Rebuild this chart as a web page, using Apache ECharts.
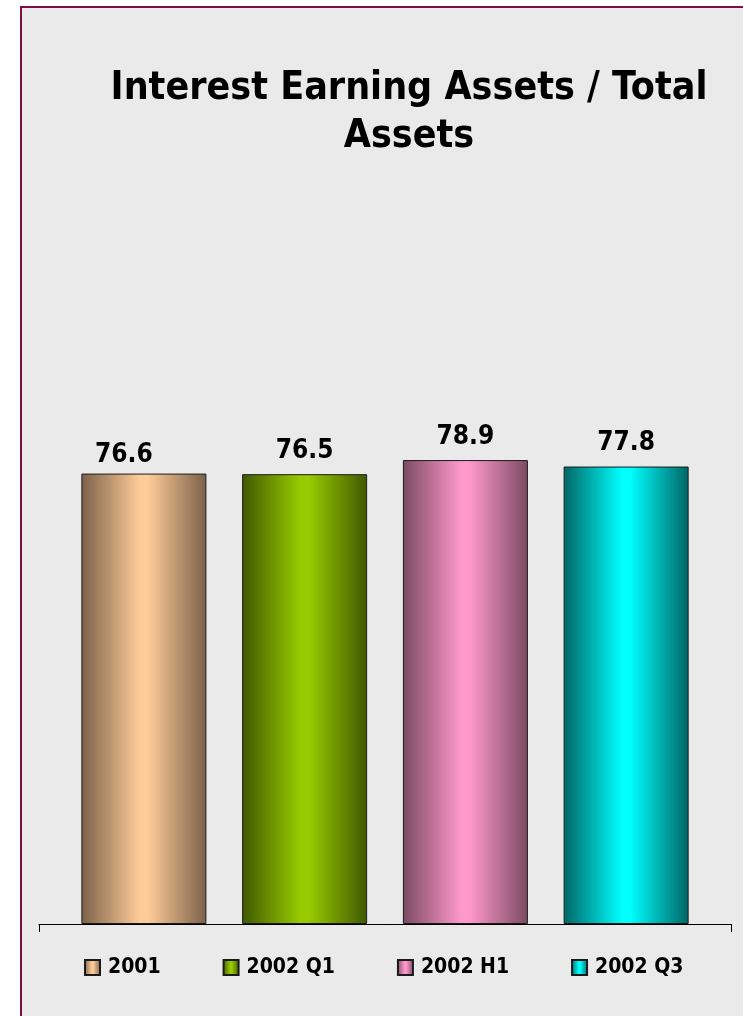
<!DOCTYPE html>
<html>
<head>
<meta charset="utf-8">
<script src="https://cdn.jsdelivr.net/npm/echarts@6/dist/echarts.min.js"></script>
<style>
  html, body { margin: 0; padding: 0; background: #ffffff; }
  #panel {
    position: absolute; left: 20px; top: 6px; width: 800px; height: 1100px;
    background: #eaeaea; border-left: 2px solid #7d0f43; border-top: 2px solid #7d0f43;
  }
  #chart { position: absolute; left: 0; top: 0; width: 743px; height: 1016px; }
</style>
</head>
<body>
<div id="panel"></div>
<div id="chart"></div>
<script>
// Share of interest earning assets in total assets, per period (%)
const titleText = 'Interest Earning Assets / Total\nAssets';
const periods = ['2001', '2002 Q1', '2002 H1', '2002 Q3'];
const ratios = [76.6, 76.5, 78.9, 77.8];
const centerColors = ['#ffcc99', '#99cc00', '#ff99cc', '#00ffff'];
const edgeColors = ['#7b6149', '#3f5800', '#7b4a62', '#006666'];

const FONT = '"DejaVu Sans Condensed", "Noto Sans", sans-serif';

function barFill(i) {
  return new echarts.graphic.LinearGradient(0, 0, 1, 0, [
    { offset: 0, color: edgeColors[i] },
    { offset: 0.47, color: centerColors[i] },
    { offset: 0.53, color: centerColors[i] },
    { offset: 1, color: edgeColors[i] }
  ]);
}

const labelOffsets = [[-20, 5], [0, 0], [0, 0], [0, 0]];

const series = periods.map((name, i) => ({
  name: name,
  type: 'bar',
  data: [ratios[i]],
  barWidth: 125,
  barGap: '28.6%',
  itemStyle: { color: barFill(i), borderColor: '#1a1a1a', borderWidth: 1 },
  label: {
    show: true,
    position: 'top',
    distance: 10,
    offset: labelOffsets[i],
    formatter: (p) => p.value.toFixed(1),
    color: '#000000',
    fontFamily: FONT,
    fontWeight: 'bold',
    fontSize: 26
  }
}));

const chart = echarts.init(document.getElementById('chart'), null, { renderer: 'canvas' });
chart.setOption({
  backgroundColor: 'transparent',
  animation: false,
  title: {
    text: titleText,
    left: 404,
    top: 60,
    textAlign: 'center',
    textStyle: {
      fontFamily: FONT,
      fontWeight: 'bold',
      fontSize: 39,
      lineHeight: 48,
      color: '#000000'
    }
  },
  legend: {
    left: 84,
    top: 957,
    padding: 0,
    itemWidth: 15,
    itemHeight: 15,
    itemGap: 62,
    icon: 'rect',
    data: periods,
    textStyle: {
      fontFamily: FONT,
      fontWeight: 'bold',
      fontSize: 21,
      color: '#000000',
      padding: [0, 0, 0, 3]
    }
  },
  grid: { left: 39, right: 12, top: 336, bottom: 92, containLabel: false },
  xAxis: {
    type: 'category',
    data: [''],
    axisLine: { lineStyle: { color: '#000000', width: 1 } },
    axisTick: { show: true, length: 8, lineStyle: { color: '#000000' } },
    axisLabel: { show: false }
  },
  yAxis: {
    type: 'value',
    min: 0,
    max: 100,
    show: false,
    splitLine: { show: false }
  },
  series: series
});
</script>
</body>
</html>
